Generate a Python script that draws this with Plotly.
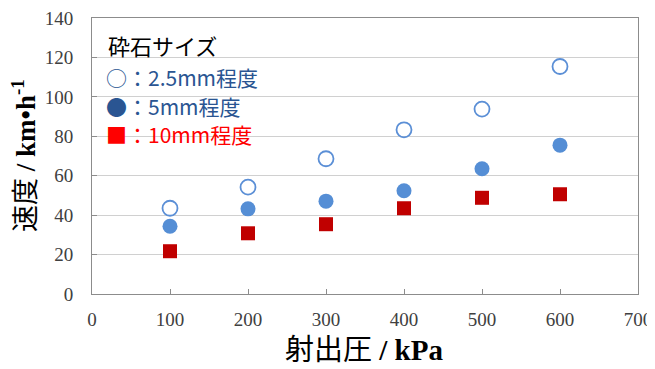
import plotly.graph_objects as go

pressure = [100, 200, 300, 400, 500, 600]
speed_2_5mm = [43.5, 54.2, 68.6, 83.3, 93.8, 115.4]
speed_5mm = [34.4, 43.2, 47.1, 52.4, 63.5, 75.5]
speed_10mm = [21.7, 30.8, 35.4, 43.5, 48.8, 50.6]

legend_title = "砕石サイズ"
legend_labels = ["○：2.5mm程度", "●：5mm程度", "■：10mm程度"]
x_title = "射出圧 <b>/ kPa</b>"
y_title = "速度 <b>/ km•h<sup>-1</sup></b>"

fig = go.Figure()
fig.add_trace(go.Scatter(x=pressure, y=speed_2_5mm, mode="markers",
                         marker=dict(symbol="circle-open", size=15, color="#5B8FD6",
                                     line=dict(width=1.8, color="#5B8FD6"))))
fig.add_trace(go.Scatter(x=pressure, y=speed_5mm, mode="markers",
                         marker=dict(symbol="circle", size=15, color="#558ED5")))
fig.add_trace(go.Scatter(x=pressure, y=speed_10mm, mode="markers",
                         marker=dict(symbol="square", size=14, color="#C00000",
                                     line=dict(width=0))))

cjk = "Noto Sans CJK JP"
serif = "Liberation Serif, Noto Sans CJK JP"

# page offset (browser default body margin)
OFF = 8
W, H = 655 - OFF, 369 - OFF
L, R, T, B = 92 - OFF, 17, 18 - OFF, 75
pw, ph = W - L - R, H - T - B

def px(x):
    return (x - OFF - L) / pw

def py(y):
    return (H - B - (y - OFF)) / ph

fig.add_annotation(x=px(106), y=py(45), xref="paper", yref="paper", xanchor="left", yanchor="middle",
                   text=legend_title, showarrow=False, font=dict(family=cjk, size=22, color="#000000"))
colors = ["#2A5592", "#2A5592", "#FF0000"]
ys = [77, 106, 134]
for lab, c, yy in zip(legend_labels, colors, ys):
    fig.add_annotation(x=px(104), y=py(yy), xref="paper", yref="paper", xanchor="left", yanchor="middle",
                       text=lab, showarrow=False, font=dict(family=cjk, size=21, color=c))

fig.add_annotation(x=px(364), y=py(350), xref="paper", yref="paper", xanchor="center", yanchor="middle",
                   text=x_title, showarrow=False, font=dict(family=serif, size=29, color="#000000"))
fig.add_annotation(x=px(24), y=py(156), xref="paper", yref="paper", xanchor="center", yanchor="middle",
                   text=y_title, textangle=-90, showarrow=False,
                   font=dict(family=serif, size=27, color="#000000"))

fig.update_layout(
    width=W, height=H,
    margin=dict(l=L, r=R, t=T, b=B),
    paper_bgcolor="white", plot_bgcolor="white",
    showlegend=False,
    xaxis=dict(range=[0, 700], dtick=100, tick0=0, showgrid=False, automargin=False,
               showline=True, linecolor="#8C8C8C", linewidth=1, mirror=True,
               ticks="inside", ticklen=5, tickcolor="#8C8C8C",
               ticklabelstandoff=8, ticklabeloverflow="allow",
               tickfont=dict(family="Liberation Serif", size=19, color="#404040"),
               zeroline=False),
    yaxis=dict(range=[0, 140], dtick=20, tick0=0, showgrid=True, gridcolor="#D0D0D0",
               automargin=False,
               showline=True, linecolor="#8C8C8C", linewidth=1, mirror=True,
               ticks="inside", ticklen=5, tickcolor="#8C8C8C",
               ticklabelstandoff=14, ticklabeloverflow="allow",
               tickfont=dict(family="Liberation Serif", size=19, color="#404040"),
               zeroline=False),
)
fig.write_html("out.html")
